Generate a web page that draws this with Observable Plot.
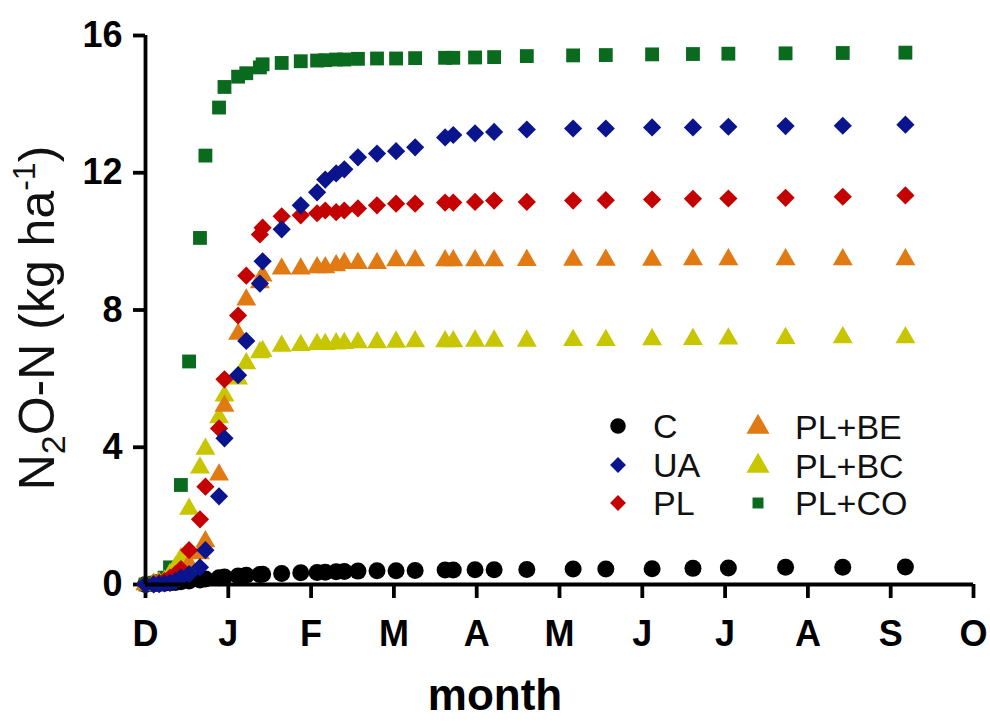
<!DOCTYPE html>
<html><head><meta charset="utf-8">
<script src="https://cdn.jsdelivr.net/npm/d3@7"></script>
<script src="https://cdn.jsdelivr.net/npm/@observablehq/plot@0.6"></script>
<style>
html,body{margin:0;padding:0;background:#fff;}
#wrap{position:relative;width:990px;height:724px;font-family:"Liberation Sans",Arial,sans-serif;overflow:hidden;}
.lg{position:absolute;display:flex;align-items:center;height:40px;font-size:34px;color:#111;}
.lg svg{position:absolute;}
</style></head><body><div id="wrap"></div>
<script>
// sampling dates (days since 1 December)
const days = [0,3,5,7,9,11,13,16,20,22,27,29,34,37,42,43,50,57,63,66,70,73,78,85,92,99,110,113,121,128,140,157,169,186,201,214,235,256,279];
// cumulative N2O-N (kg ha-1)
const C    = [0,0.02,0.03,0.04,0.05,0.06,0.08,0.1,0.13,0.16,0.2,0.22,0.25,0.27,0.29,0.3,0.32,0.34,0.35,0.36,0.37,0.38,0.39,0.4,0.4,0.41,0.42,0.42,0.43,0.43,0.44,0.45,0.45,0.46,0.47,0.48,0.5,0.5,0.51];
const UA   = [0,0,0.01,0.03,0.05,0.1,0.2,0.3,0.5,1.0,2.57,4.26,6.1,7.1,8.77,9.42,10.35,11.05,11.43,11.8,11.98,12.1,12.45,12.56,12.63,12.74,13.03,13.1,13.15,13.19,13.26,13.29,13.29,13.32,13.32,13.34,13.36,13.37,13.4];
const PL   = [0,0.02,0.05,0.1,0.2,0.3,0.45,1.0,1.9,2.85,4.55,5.98,7.84,9.0,10.2,10.4,10.73,10.76,10.82,10.9,10.85,10.9,10.96,11.05,11.1,11.1,11.13,11.13,11.15,11.19,11.15,11.19,11.2,11.22,11.24,11.25,11.27,11.3,11.34];
const PLBE = [0,0,0.02,0.05,0.1,0.15,0.3,0.6,0.9,1.25,3.2,5.2,7.3,8.3,8.8,9.0,9.2,9.2,9.24,9.24,9.3,9.36,9.36,9.36,9.44,9.44,9.44,9.44,9.44,9.44,9.45,9.46,9.46,9.46,9.47,9.47,9.47,9.47,9.47];
const PLBC = [0,0.02,0.05,0.1,0.3,0.5,0.76,2.2,3.4,3.95,4.87,5.5,6.0,6.44,6.76,6.8,6.95,6.97,7.0,7.0,7.02,7.03,7.05,7.05,7.07,7.08,7.08,7.08,7.1,7.1,7.1,7.12,7.12,7.14,7.15,7.16,7.18,7.2,7.2];
const PLCO = [0,0.05,0.1,0.2,0.5,null,2.9,6.5,10.1,12.5,13.9,14.5,14.8,14.9,15.07,15.16,15.2,15.25,15.27,15.28,15.3,15.3,15.32,15.33,15.33,15.34,15.35,15.35,15.36,15.37,15.4,15.42,15.43,15.45,15.46,15.47,15.48,15.49,15.5];

const seriesNames   = ["C","UA","PL","PL+BE","PL+BC","PL+CO"];
const seriesValues  = [C, UA, PL, PLBE, PLBC, PLCO];
const seriesColors  = ["#000000","#0a148c","#c40000","#e27a14","#c8c600","#0a6a1e"];
const seriesSymbols = ["circle","diamond2","diamond2","triangle","triangle","square"];
const drawOrder = [0,5,4,3,2,1];

const monthLabels = ["D","J","F","M","A","M","J","J","A","S","O"];
const monthLen = 30.4;
const yTicks = [0,4,8,12,16];

const sizes = {circle:8.5, diamond2:8.2, triangle:7.4, square:7.8};

const rows = [];
seriesNames.forEach((name, s) => {
  seriesValues[s].forEach((v, j) => {
    if (v != null) rows.push({series: name, day: days[j], value: v});
  });
});

const dotMarks = drawOrder.map(s => Plot.dot(rows.filter(d => d.series === seriesNames[s]), {
  x: "day", y: "value", symbol: seriesSymbols[s], fill: seriesColors[s],
  r: sizes[seriesSymbols[s]], stroke: "none"
}));

const monthTicks = monthLabels.map((m, i) => i * monthLen);

const chart = Plot.plot({
  width: 990, height: 724,
  marginLeft: 145, marginRight: 17, marginTop: 35, marginBottom: 140,
  style: {fontFamily: "Liberation Sans, Arial, sans-serif", color: "black", background: "white", overflow: "visible"},
  x: {domain: [0, monthTicks[monthTicks.length - 1]]},
  y: {domain: [0, 16]},
  marks: [
    Plot.axisY({ticks: yTicks, tickSize: 12, tickPadding: 11, fontSize: 36, fontWeight: "bold", strokeWidth: 3.8, label: null}),
    Plot.axisX({ticks: monthTicks, tickFormat: d => monthLabels[Math.round(d / monthLen)], tickSize: 14, tickPadding: 22, fontSize: 36, fontWeight: "bold", strokeWidth: 3.8, label: null}),
    ...dotMarks,
    Plot.ruleX([0], {strokeWidth: 3.8}),
    Plot.ruleY([0], {strokeWidth: 3.8})
  ]
});

const wrap = document.getElementById("wrap");
wrap.appendChild(chart);

const svg = d3.select(chart);
// x axis title
svg.append("text").attr("x", 495).attr("y", 710).attr("text-anchor", "middle")
  .attr("font-size", 44).attr("font-weight", "bold").attr("fill", "black").text("month");
// y axis title with sub/superscript
const yt = svg.append("text").attr("transform", "translate(54,318) rotate(-90)")
  .attr("text-anchor", "middle").attr("font-size", 50).attr("fill", "#111");
yt.append("tspan").text("N");
yt.append("tspan").attr("font-size", 34).attr("dy", 11).text("2");
yt.append("tspan").attr("dy", -11).text("O-N (kg ha");
yt.append("tspan").attr("font-size", 32).attr("dy", -19).text("-1");
yt.append("tspan").attr("dy", 19).text(")");

// legend
const legendPos = [
  [618, 426], [618, 465], [618, 503],
  [758, 427], [758, 466], [758, 503]
];
const legendSize = {circle: 190, diamond2: 160, triangle: 230, square: 120};
const symType = {circle: d3.symbolCircle, diamond2: d3.symbolDiamond2, triangle: d3.symbolTriangle, square: d3.symbolSquare};
seriesNames.forEach((name, s) => {
  const [cx, cy] = legendPos[s];
  const item = document.createElement("div");
  item.className = "lg";
  item.style.left = (cx - 15) + "px";
  item.style.top = (cy - 20) + "px";
  const path = d3.symbol().type(symType[seriesSymbols[s]]).size(legendSize[seriesSymbols[s]])();
  item.innerHTML = `<svg width="30" height="40" style="left:0;top:0"><path transform="translate(15,20)" d="${path}" fill="${seriesColors[s]}"/></svg><span style="margin-left:${s < 3 ? 50 : 52}px">${name}</span>`;
  wrap.appendChild(item);
});
</script>
</body></html>
